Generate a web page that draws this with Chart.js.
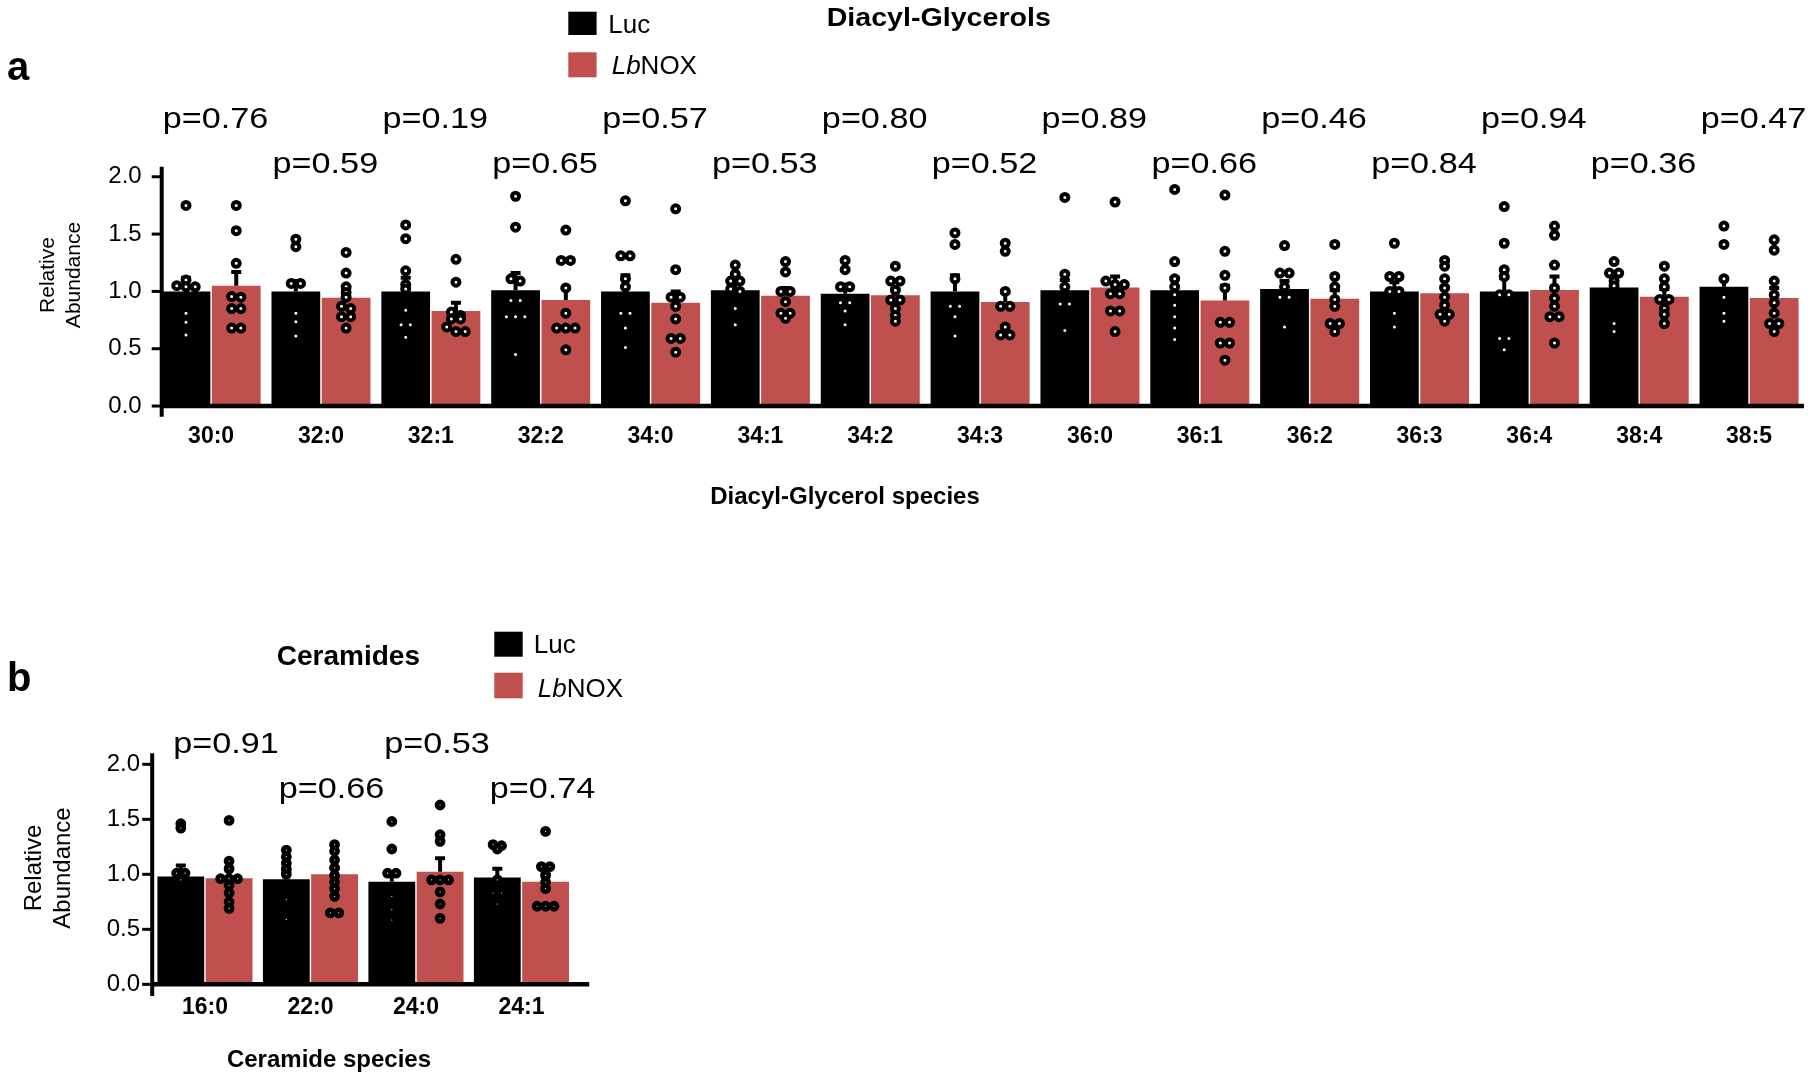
<!DOCTYPE html>
<html>
<head>
<meta charset="utf-8">
<title>Diacyl-Glycerols and Ceramides</title>
<script src="https://cdn.jsdelivr.net/npm/chart.js@4.4.1/dist/chart.umd.min.js"></script>
<style>
    html, body { margin: 0; padding: 0; background: #fff; }
    body { width: 1812px; height: 1078px; position: relative; overflow: hidden; }
    canvas { position: absolute; left: 0; }
    #dagChart { top: 0; }
    #cerChart { top: 540px; }
</style>
</head>
<body>
<canvas id="dagChart" width="1812" height="540"></canvas>
<canvas id="cerChart" width="1812" height="538"></canvas>
<script>
// ---- panel a: diacyl-glycerols ----
var dagSpecies = ['30:0', '32:0', '32:1', '32:2', '34:0', '34:1', '34:2', '34:3',
    '36:0', '36:1', '36:2', '36:3', '36:4', '38:4', '38:5'];
var dagPValues = ['0.76', '0.59', '0.19', '0.65', '0.57', '0.53', '0.80', '0.52',
    '0.89', '0.66', '0.46', '0.84', '0.94', '0.36', '0.47'];
var dagLucMean = [1.00, 1.00, 1.00, 1.01, 1.00, 1.01, 0.98, 1.00, 1.01, 1.01, 1.02, 1.00, 1.00, 1.035, 1.04];
var dagNoxMean = [1.05, 0.945, 0.83, 0.925, 0.90, 0.963, 0.966, 0.907, 1.035, 0.92, 0.937, 0.983, 1.012, 0.954, 0.942];
var dagLucSemTop = [1.12, 1.09, 1.12, 1.16, 1.14, 1.08, 1.06, 1.14, 1.10, 1.12, 1.09, 1.08, 1.12, 1.10, 1.12];
var dagNoxSemTop = [1.17, 1.02, 0.90, 1.03, 1.00, 1.03, 1.02, 0.99, 1.13, 1.05, 1.01, 1.04, 1.13, 1.02, 1.03];
var dagLucPoints = [
    [1.75, 1.10, 1.05, 1.04, 1.04, 0.81, 0.73, 0.62],
    [1.455, 1.39, 1.07, 1.07, 0.81, 0.735, 0.61],
    [1.58, 1.46, 1.18, 1.06, 1.02, 0.835, 0.71, 0.71, 0.60],
    [1.83, 1.56, 1.11, 1.09, 0.92, 0.92, 0.78, 0.78, 0.78, 0.45],
    [1.79, 1.31, 1.31, 1.11, 1.04, 0.81, 0.81, 0.68, 0.51],
    [1.23, 1.15, 1.09, 1.09, 1.02, 1.00, 0.85, 0.71],
    [1.27, 1.19, 1.04, 1.04, 0.90, 0.90, 0.83, 0.71],
    [1.51, 1.41, 1.11, 0.87, 0.87, 0.78, 0.61],
    [1.82, 1.15, 1.04, 0.89, 0.89, 0.66],
    [1.89, 1.26, 1.11, 1.04, 0.97, 0.88, 0.78, 0.68, 0.58],
    [1.40, 1.16, 1.16, 1.04, 0.95, 0.95, 0.69],
    [1.42, 1.13, 1.13, 1.00, 1.00, 0.81, 0.69],
    [1.74, 1.42, 1.19, 1.13, 0.97, 0.97, 0.59, 0.59, 0.49],
    [1.26, 1.16, 1.16, 1.09, 1.05, 0.72, 0.65],
    [1.57, 1.41, 1.11, 0.95, 0.81, 0.74]
];
var dagNoxPoints = [
    [1.75, 1.53, 1.245, 0.955, 0.95, 0.85, 0.85, 0.68, 0.68],
    [1.34, 1.16, 1.04, 0.99, 0.95, 0.87, 0.85, 0.78, 0.78, 0.68],
    [1.28, 1.08, 0.82, 0.79, 0.76, 0.76, 0.69, 0.65, 0.65],
    [1.535, 1.27, 1.27, 1.03, 0.81, 0.68, 0.68, 0.68, 0.49],
    [1.72, 1.19, 0.95, 0.95, 0.87, 0.76, 0.59, 0.59, 0.47],
    [1.26, 1.17, 1.00, 1.00, 0.91, 0.81, 0.81, 0.765],
    [1.22, 1.09, 1.09, 1.01, 0.925, 0.925, 0.85, 0.79, 0.74],
    [1.42, 1.35, 1.00, 0.87, 0.87, 0.69, 0.62, 0.62],
    [1.78, 1.09, 1.06, 1.06, 0.98, 0.98, 0.83, 0.83, 0.65],
    [1.84, 1.35, 1.14, 1.03, 0.73, 0.73, 0.55, 0.55, 0.40],
    [1.41, 1.13, 1.04, 0.93, 0.87, 0.72, 0.72, 0.65],
    [1.27, 1.22, 1.11, 1.03, 0.95, 0.88, 0.80, 0.80, 0.74],
    [1.57, 1.49, 1.23, 1.03, 0.94, 0.87, 0.78, 0.78, 0.55],
    [1.22, 1.11, 1.04, 0.93, 0.93, 0.85, 0.80, 0.72],
    [1.45, 1.36, 1.09, 0.97, 0.90, 0.81, 0.72, 0.72, 0.65]
];

// ---- panel b: ceramides ----
var cerSpecies = ['16:0', '22:0', '24:0', '24:1'];
var cerPValues = ['0.91', '0.66', '0.53', '0.74'];
var cerLucMean = [0.98, 0.955, 0.933, 0.97];
var cerNoxMean = [0.964, 1.00, 1.024, 0.933];
var cerLucSemTop = [1.08, 1.03, 1.01, 1.05];
var cerNoxSemTop = [1.06, 1.06, 1.145, 1.00];
var cerLucPoints = [
    [1.46, 1.42, 1.01, 1.01, 0.95],
    [1.22, 1.16, 1.10, 1.05, 1.00, 0.77, 0.59],
    [1.48, 1.23, 1.01, 1.01, 0.80, 0.68, 0.585],
    [1.27, 1.26, 1.23, 0.95, 0.83, 0.83, 0.73]
];
var cerNoxPoints = [
    [1.49, 1.12, 1.05, 0.96, 0.96, 0.96, 0.90, 0.83, 0.75, 0.69],
    [1.27, 1.21, 1.13, 1.06, 0.99, 0.93, 0.87, 0.80, 0.65, 0.65],
    [1.63, 1.36, 1.30, 0.95, 0.95, 0.95, 0.84, 0.73, 0.60],
    [1.39, 1.07, 1.07, 0.99, 0.93, 0.87, 0.71, 0.71, 0.71]
];

var yTickValues = [0, 0.5, 1.0, 1.5, 2.0];

var FONT = "'Liberation Sans', Arial, Helvetica, sans-serif";
var RED = '#c0504d';
var GROUP_PCT = 0.915;   // share of a category taken by the bar pair
var BAR_PCT = 0.97;

// spread points that share a row side by side (prism-like column scatter)
function swarm(groups, side, step, rowGap) {
    var out = [];
    groups.forEach(function (values, i) {
        var sorted = values.slice().sort(function (a, b) { return b - a; });
        var rows = [];
        sorted.forEach(function (v) {
            var row = rows[rows.length - 1];
            if (row && row[0] - v < rowGap) {
                row.push(v);
            } else {
                rows.push([v]);
            }
        });
        rows.forEach(function (row) {
            row.forEach(function (v, j) {
                out.push({ x: i + side + (j - (row.length - 1) / 2) * step, y: v });
            });
        });
    });
    return out;
}

function barPoints(means, side) {
    return means.map(function (v, i) {
        return { x: i + side, y: v };
    });
}

function drawText(ctx, str, x, y, font, align, sx) {
    sx = sx || 1;
    ctx.save();
    ctx.font = font;
    ctx.fillStyle = '#000';
    ctx.textBaseline = 'alphabetic';
    ctx.textAlign = 'left';
    var w = ctx.measureText(str).width * sx;
    var left = align === 'center' ? x - w / 2 : (align === 'right' ? x - w : x);
    ctx.translate(left, y);
    ctx.scale(sx, 1);
    ctx.fillText(str, 0, 0);
    ctx.restore();
    return w;
}

function drawVText(ctx, str, cx, cy, font) {
    ctx.save();
    ctx.translate(cx, cy);
    ctx.rotate(-Math.PI / 2);
    ctx.font = font;
    ctx.fillStyle = '#000';
    ctx.textAlign = 'center';
    ctx.textBaseline = 'middle';
    ctx.fillText(str, 0, 0);
    ctx.restore();
}

function drawLegend(ctx, lg) {
    ctx.save();
    ctx.fillStyle = '#000';
    ctx.fillRect(lg.x, lg.y1, lg.w, lg.h1);
    ctx.fillStyle = RED;
    ctx.fillRect(lg.x, lg.y2, lg.w, lg.h2);
    ctx.restore();
    drawText(ctx, 'Luc', lg.tx1, lg.b1, '26px ' + FONT, 'left');
    var w = drawText(ctx, 'Lb', lg.tx2, lg.b2, 'italic 26px ' + FONT, 'left');
    drawText(ctx, 'NOX', lg.tx2 + w, lg.b2, '26px ' + FONT, 'left');
}

function panelPlugin(panel) {
    return {
        id: 'prismPanel',
        afterDatasetDraw: function (chart, args) {
            var ds = chart.data.datasets[args.index];
            if (!ds.semTop) {
                return;
            }
            var ctx = chart.ctx;
            var y = chart.scales.y;
            ctx.save();
            ctx.strokeStyle = '#000';
            ctx.lineWidth = 4;
            args.meta.data.forEach(function (bar, i) {
                var top = y.getPixelForValue(ds.semTop[i]);
                var base = y.getPixelForValue(ds.data[i].y);
                ctx.beginPath();
                ctx.moveTo(bar.x, base);
                ctx.lineTo(bar.x, top);
                ctx.moveTo(bar.x - 5, top);
                ctx.lineTo(bar.x + 5, top);
                ctx.stroke();
            });
            ctx.restore();
        },
        afterDraw: function (chart) {
            var ctx = chart.ctx;
            var area = chart.chartArea;
            var x = chart.scales.x;
            var y = chart.scales.y;
            var axisX = area.left + panel.inset;

            ctx.save();
            ctx.strokeStyle = '#000';
            ctx.lineWidth = 4;
            ctx.beginPath();
            ctx.moveTo(axisX, area.top);
            ctx.lineTo(axisX, area.bottom);
            ctx.stroke();

            ctx.lineWidth = 3;
            y.ticks.forEach(function (t) {
                var py = y.getPixelForValue(t.value);
                ctx.beginPath();
                ctx.moveTo(axisX - 10, py);
                ctx.lineTo(axisX, py);
                ctx.stroke();
            });

            var y0 = y.getPixelForValue(0);
            ctx.lineWidth = 4.5;
            ctx.beginPath();
            ctx.moveTo(axisX, y0);
            ctx.lineTo(area.right + panel.xExtra, y0);
            ctx.stroke();
            ctx.restore();

            panel.pValues.forEach(function (p, i) {
                drawText(ctx, 'p=' + p, x.getPixelForValue(i + panel.pNudge), panel.pRows[i % 2], '30px ' + FONT, 'center', 1.14);
            });

            drawText(ctx, panel.letter, 7, panel.letterY, 'bold 40px ' + FONT, 'left');
            drawText(ctx, panel.title, panel.titleX, panel.titleY, 'bold ' + panel.titleSize + 'px ' + FONT, 'left', panel.titleScale);
            drawText(ctx, panel.xTitle, panel.xTitleX, panel.xTitleY, 'bold 24px ' + FONT, 'center');
            drawVText(ctx, 'Relative', panel.yTitleX[0], panel.yTitleY, panel.yTitleSize + 'px ' + FONT);
            drawVText(ctx, 'Abundance', panel.yTitleX[1], panel.yTitleY, panel.yTitleSize + 'px ' + FONT);
            drawLegend(ctx, panel.legend);
        }
    };
}

function buildChart(canvasId, cfg, panel) {
    var canvas = document.getElementById(canvasId);
    var n = cfg.labels.length;
    var half = GROUP_PCT / 4;

    function barSet(label, means, sem, side, color) {
        return {
            label: label,
            data: barPoints(means, side),
            semTop: sem,
            backgroundColor: color,
            borderWidth: 0,
            grouped: false,
            categoryPercentage: 1,
            barPercentage: BAR_PCT,
            order: 2
        };
    }

    function pointSet(label, groups, side, order) {
        return {
            type: 'scatter',
            label: label,
            data: swarm(groups, side, cfg.step, cfg.rowGap),
            pointRadius: cfg.dotR,
            pointBorderWidth: cfg.dotW,
            pointBackgroundColor: '#fff',
            pointBorderColor: '#000',
            order: order
        };
    }

    return new Chart(canvas, {
        type: 'bar',
        data: {
            datasets: [
                barSet('Luc', cfg.lucMean, cfg.lucSem, -half, '#000'),
                barSet('LbNOX', cfg.noxMean, cfg.noxSem, half, RED),
                pointSet('Luc points', cfg.lucPts, -half, 1),
                pointSet('LbNOX points', cfg.noxPts, half, 0)
            ]
        },
        options: {
            responsive: false,
            devicePixelRatio: 1,
            animation: false,
            events: [],
            layout: {
                padding: { top: cfg.padTop, right: cfg.padRight, left: 0, bottom: 0 }
            },
            plugins: {
                legend: { display: false },
                tooltip: { enabled: false }
            },
            scales: {
                x: {
                    type: 'linear',
                    min: -0.5,
                    max: n - 0.5,
                    offset: false,
                    grid: { display: false, drawTicks: false, offset: false },
                    border: { display: false },
                    ticks: {
                        color: '#000',
                        padding: cfg.xTickPad,
                        autoSkip: false,
                        maxRotation: 0,
                        font: { family: FONT, size: 23, weight: 'bold', lineHeight: 1 },
                        callback: function (value) {
                            return cfg.labels[Math.round(value)];
                        }
                    },
                    afterBuildTicks: function (scale) {
                        scale.ticks = cfg.labels.map(function (label, i) {
                            return { value: i };
                        });
                    },
                    afterFit: function (scale) {
                        scale.height = cfg.xHeight;
                    }
                },
                y: {
                    min: cfg.yMin,
                    max: cfg.yMax,
                    grid: { display: false, drawTicks: false },
                    border: { display: false },
                    ticks: {
                        color: '#000',
                        padding: cfg.yTickPad,
                        font: { family: FONT, size: 24 },
                        callback: function (value) {
                            return Number(value).toFixed(1);
                        }
                    },
                    afterBuildTicks: function (scale) {
                        scale.ticks = yTickValues.map(function (v) {
                            return { value: v };
                        });
                    },
                    afterFit: function (scale) {
                        scale.width = cfg.yWidth;
                    }
                }
            }
        },
        plugins: [panelPlugin(panel)]
    });
}

buildChart('dagChart', {
    labels: dagSpecies,
    lucMean: dagLucMean,
    noxMean: dagNoxMean,
    lucSem: dagLucSemTop,
    noxSem: dagNoxSemTop,
    lucPts: dagLucPoints,
    noxPts: dagNoxPoints,
    padTop: 166.8,
    padRight: 5.8,
    yMin: -0.093,
    yMax: 2.087,
    yWidth: 156.2,
    xHeight: 123.3,
    xTickPad: 8,
    yTickPad: 14.5,
    step: 0.084,
    rowGap: 0.04,
    dotR: 3.5,
    dotW: 4
}, {
    inset: 5.5,
    xExtra: 0,
    pValues: dagPValues,
    pNudge: 0.04,
    pRows: [127.7, 173.3],
    letter: 'a',
    letterY: 80,
    title: 'Diacyl-Glycerols',
    titleX: 826.7,
    titleY: 26,
    titleSize: 26,
    titleScale: 1.1,
    xTitle: 'Diacyl-Glycerol species',
    xTitleX: 845,
    xTitleY: 504,
    yTitleX: [48.5, 74],
    yTitleY: 275,
    yTitleSize: 21,
    legend: { x: 568.3, w: 28.3, y1: 11.7, h1: 23.3, y2: 52.3, h2: 25, tx1: 608.3, b1: 33.3, tx2: 611.7, b2: 74 }
});

buildChart('cerChart', {
    labels: cerSpecies,
    lucMean: cerLucMean,
    noxMean: cerNoxMean,
    lucSem: cerLucSemTop,
    noxSem: cerNoxSemTop,
    lucPts: cerLucPoints,
    noxPts: cerNoxPoints,
    padTop: 213.3,
    padRight: 1237.8,
    yMin: -0.106,
    yMax: 2.1,
    yWidth: 152.2,
    xHeight: 82,
    xTickPad: 0,
    yTickPad: 12.2,
    step: 0.08,
    rowGap: 0.04,
    dotR: 3,
    dotW: 4.8
}, {
    inset: 0,
    xExtra: 15,
    pValues: cerPValues,
    pNudge: 0.2,
    pRows: [213, 257.7],
    letter: 'b',
    letterY: 151,
    title: 'Ceramides',
    titleX: 276.8,
    titleY: 125,
    titleSize: 28,
    titleScale: 1,
    xTitle: 'Ceramide species',
    xTitleX: 329,
    xTitleY: 526.7,
    yTitleX: [34.7, 63.5],
    yTitleY: 328,
    yTitleSize: 24,
    legend: { x: 494.3, w: 28.4, y1: 91.7, h1: 25, y2: 132.7, h2: 25.6, tx1: 533.8, b1: 113.3, tx2: 537.8, b2: 156.7 }
});
</script>
</body>
</html>
